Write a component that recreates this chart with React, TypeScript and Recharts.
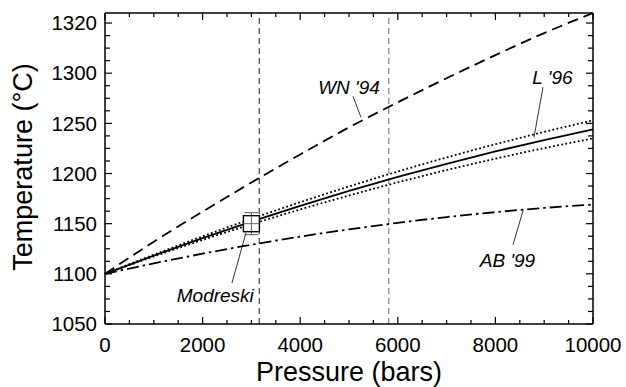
import { ComposedChart, Line, Scatter, ErrorBar, XAxis, YAxis, ReferenceLine, ReferenceDot } from 'recharts';

// pressure in bars, temperature in °C
const pressure = [0, 1000, 2000, 3000, 4000, 5000, 6000, 7000, 8000, 9000, 10000];
const wn94 = [1100, 1132, 1162, 1191, 1219, 1246, 1271, 1295, 1318, 1340, 1360];
const l96 = [1100, 1118.2, 1135.6, 1152.1, 1167.8, 1182.6, 1196.6, 1209.7, 1222, 1233.4, 1244];
const l96Upper = [1100, 1119.1, 1137.4, 1154.8, 1171.4, 1187.1, 1202, 1216, 1229.2, 1241.5, 1253];
const l96Lower = [1100, 1117.3, 1133.8, 1149.4, 1164.2, 1178.1, 1191.2, 1203.4, 1214.8, 1225.3, 1235];
const ab99 = [1100, 1110.4, 1120.1, 1129, 1137.1, 1144.3, 1150.8, 1156.6, 1161.5, 1165.7, 1169];

const modreski = [{ p: 3000, t: 1150, err: 11 }];

const xTicks = [0, 500, 1000, 1500, 2000, 2500, 3000, 3500, 4000, 4500, 5000, 5500, 6000, 6500, 7000, 7500, 8000, 8500, 9000, 9500, 10000];
const xMajorTicks = [0, 2000, 4000, 6000, 8000, 10000];
const yTicks = [1050, 1062.5, 1075, 1087.5, 1100, 1112.5, 1125, 1137.5, 1150, 1162.5, 1175, 1187.5, 1200, 1212.5, 1225, 1237.5, 1250, 1262.5, 1275, 1287.5, 1300, 1312.5, 1325, 1337.5, 1350];
const yMajorTicks = [1050, 1100, 1150, 1200, 1250, 1300, 1350];
const yTickLabels = ['1050', '1100', '1150', '1200', '1250', '1300', '1320'];

const verticalMarks = [3160, 5815];

const annotationText = ["WN '94", "L '96", "AB '99", 'Modreski'];
const annotationAt = [[5000, 1286], [9170, 1296.5], [8248, 1114], [2260, 1078.5]];
const leaderFrom = [[5082, 1277], [8975, 1286], [8361, 1129], [2602, 1091]];
const leaderTo = [[5246, 1256], [8791, 1236], [8566, 1163], [2889, 1141]];

const rows = pressure.map((p, i) => ({
    p,
    wn: wn94[i],
    l: l96[i],
    lu: l96Upper[i],
    ll: l96Lower[i],
    ab: ab99[i],
}));

const FONT = '"Liberation Sans", Arial, Helvetica, sans-serif';

const BottomTick = (props: any) => {
    const { x, y, payload } = props;
    const major = xMajorTicks.includes(payload.value);
    return (
        <g>
            <line x1={x} x2={x} y1={y} y2={y - (major ? 7 : 4)} stroke="#000" strokeWidth={1.2} />
            {major && (
                <text x={x} y={y + 28} textAnchor="middle" fontSize={20.5} fontFamily={FONT} fill="#000">
                    {payload.value}
                </text>
            )}
        </g>
    );
};

const TopTick = (props: any) => {
    const { x, y, payload } = props;
    const major = xMajorTicks.includes(payload.value);
    return <line x1={x} x2={x} y1={y} y2={y + (major ? 7 : 4)} stroke="#000" strokeWidth={1.2} />;
};

const LeftTick = (props: any) => {
    const { x, y, payload } = props;
    const idx = yMajorTicks.indexOf(payload.value);
    return (
        <g>
            <line x1={x} x2={x + (idx >= 0 ? 7 : 5)} y1={y} y2={y} stroke="#000" strokeWidth={1.2} />
            {idx >= 0 && (
                <text x={x - 8} y={y + 7.3} textAnchor="end" fontSize={20.5} fontFamily={FONT} fill="#000">
                    {yTickLabels[idx]}
                </text>
            )}
        </g>
    );
};

const RightTick = (props: any) => {
    const { x, y, payload } = props;
    const major = yMajorTicks.includes(payload.value);
    return <line x1={x} x2={x - (major ? 7 : 5)} y1={y} y2={y} stroke="#000" strokeWidth={1.2} />;
};

const AnnotationLabel = (props: any) => {
    const { viewBox, text } = props;
    return (
        <text
            x={viewBox.x + viewBox.width / 2}
            y={viewBox.y + viewBox.height / 2 + 6.8}
            textAnchor="middle"
            fontSize={19}
            fontStyle="italic"
            fontFamily={FONT}
            fill="#000"
        >
            {text}
        </text>
    );
};

const ModreskiMarker = (props: any) => {
    const { cx, cy } = props;
    return (
        <g>
            <rect x={cx - 8} y={cy - 8} width={16} height={16} fill="#fff" stroke="#000" strokeWidth={1.4} />
            <line x1={cx - 8} x2={cx + 8} y1={cy} y2={cy} stroke="#555" strokeWidth={0.9} />
            <line x1={cx} x2={cx} y1={cy - 8} y2={cy + 8} stroke="#555" strokeWidth={0.9} />
        </g>
    );
};

export default function App() {
    return (
        <div style={{ position: 'absolute', left: 0, top: 0, width: 626, height: 387, background: '#fff' }}>
            <ComposedChart width={626} height={387} data={rows} margin={{ top: 12, right: 32, bottom: 0, left: 0 }}>
                <XAxis
                    dataKey="p"
                    type="number"
                    domain={[0, 10000]}
                    ticks={xTicks}
                    interval={0}
                    height={63}
                    tickSize={0}
                    tickMargin={0}
                    tick={<BottomTick />}
                    axisLine={{ stroke: '#000', strokeWidth: 1.5 }}
                    label={{ value: 'Pressure (bars)', position: 'insideBottom', offset: 6, fontSize: 27, fontFamily: FONT, fill: '#000' }}
                />
                <XAxis
                    xAxisId="top"
                    orientation="top"
                    dataKey="p"
                    type="number"
                    domain={[0, 10000]}
                    ticks={xTicks}
                    interval={0}
                    height={1}
                    tickSize={0}
                    tickMargin={0}
                    tick={<TopTick />}
                    axisLine={{ stroke: '#000', strokeWidth: 1.5 }}
                />
                <YAxis
                    type="number"
                    domain={[1050, 1360]}
                    ticks={yTicks}
                    interval={0}
                    width={105}
                    tickSize={0}
                    tickMargin={0}
                    tick={<LeftTick />}
                    axisLine={{ stroke: '#000', strokeWidth: 1.5 }}
                    allowDataOverflow
                />
                <YAxis
                    yAxisId="right"
                    orientation="right"
                    type="number"
                    domain={[1050, 1360]}
                    ticks={yTicks}
                    interval={0}
                    width={1}
                    tickSize={0}
                    tickMargin={0}
                    tick={<RightTick />}
                    axisLine={{ stroke: '#000', strokeWidth: 1.5 }}
                    allowDataOverflow
                />
                <text
                    transform="translate(32,167) rotate(-90)"
                    textAnchor="middle"
                    fontSize={27}
                    fontFamily={FONT}
                    fill="#000"
                >
                    Temperature (°C)
                </text>

                <ReferenceLine x={verticalMarks[0]} stroke="#000" strokeWidth={0.9} strokeDasharray="6 4" />
                <ReferenceLine x={verticalMarks[1]} stroke="#999" strokeWidth={1.5} strokeDasharray="6 4" />

                <Line dataKey="wn" type="monotone" stroke="#000" strokeWidth={1.8} strokeDasharray="11 6" dot={false} isAnimationActive={false} />
                <Line dataKey="lu" type="monotone" stroke="#000" strokeWidth={1.8} strokeDasharray="1.8 2.4" dot={false} isAnimationActive={false} />
                <Line dataKey="ll" type="monotone" stroke="#000" strokeWidth={1.8} strokeDasharray="1.8 2.4" dot={false} isAnimationActive={false} />
                <Line dataKey="l" type="monotone" stroke="#000" strokeWidth={1.8} dot={false} isAnimationActive={false} />
                <Line dataKey="ab" type="monotone" stroke="#000" strokeWidth={1.8} strokeDasharray="12 4 2.5 4" dot={false} isAnimationActive={false} />

                {annotationText.map((t, i) => (
                    <ReferenceLine
                        key={`leader-${i}`}
                        segment={[
                            { x: leaderFrom[i][0], y: leaderFrom[i][1] },
                            { x: leaderTo[i][0], y: leaderTo[i][1] },
                        ]}
                        stroke="#000"
                        strokeWidth={0.8}
                    />
                ))}
                {annotationText.map((t, i) => (
                    <ReferenceDot
                        key={`label-${i}`}
                        x={annotationAt[i][0]}
                        y={annotationAt[i][1]}
                        r={0}
                        fill="none"
                        stroke="none"
                        label={<AnnotationLabel text={t} />}
                    />
                ))}

                <Scatter data={modreski} dataKey="t" shape={<ModreskiMarker />} isAnimationActive={false}>
                    <ErrorBar dataKey="err" direction="y" width={7} stroke="#555" strokeWidth={1} />
                </Scatter>
            </ComposedChart>
        </div>
    );
}
